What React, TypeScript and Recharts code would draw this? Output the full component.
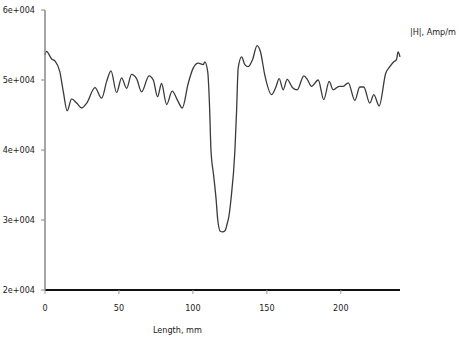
import { LineChart, Line, XAxis, YAxis } from 'recharts';

const lengths = [
  0, 1, 4.5, 6.8, 10, 12.4, 15, 18, 21.4, 24.8, 28.2, 33.8, 38.3, 41.7, 44.6, 48.4, 51.8, 55.2,
  58.5, 61.9, 65.3, 70.3, 73.2, 76.1, 78.8, 82.2, 86, 89.6, 92.8, 96.8, 100.2, 103.6, 107, 108,
  110, 111.2, 112.2, 114, 115.7, 116.8, 118.5, 120, 121.8, 123.2, 124.3, 125.7, 128.4, 129.5,
  130.6, 132.9, 135.1, 137.4, 140.3, 143.4, 145.7, 148.6, 153.2, 156.1, 158.3, 161, 163.7, 167.4,
  170.5, 175, 177.3, 180.2, 184.7, 188.5, 192.1, 194.8, 198.9, 201.6, 205, 209.5, 212.8, 215.5,
  219.6, 222.3, 225.9, 230.4, 233.1, 235.8, 237.6, 238.7, 240,
];

const fieldH = [
  53600, 54100, 53000, 52700, 51200, 48300, 45600, 47300, 46700, 46000, 46700, 48900, 47400, 49800,
  51300, 48200, 50300, 48800, 50800, 50200, 48300, 50600, 50000, 47600, 49500, 46500, 48400, 47100,
  46000, 49500, 51700, 52400, 52200, 52600, 51200, 46500, 40000, 36400, 32900, 30000, 28400, 28300,
  28500, 29500, 30500, 32900, 40000, 45500, 51700, 53300, 52200, 51900, 52900, 54900, 54000, 50700,
  47900, 49000, 50200, 48600, 50100, 48900, 48600, 50600, 50100, 49100, 50000, 47200, 49800, 48600,
  49100, 49100, 49600, 47100, 49000, 49000, 46700, 47900, 46300, 51000, 51900, 52600, 52900, 54000,
  53300,
];

const xTicks = [0, 50, 100, 150, 200];
const yTicks = [20000, 30000, 40000, 50000, 60000];

const data = lengths.map((mm, i) => ({ mm, h: fieldH[i] }));

const FONT = "'DejaVu Sans Condensed', 'DejaVu Sans', sans-serif";

const fmtSci = (v: number) => {
  const exp = Math.floor(Math.log10(v));
  const m = Math.round(v / Math.pow(10, exp));
  return `${m}e+${String(exp).padStart(3, '0')}`;
};

export default function App() {
  return (
    <div style={{ position: 'absolute', left: 0, top: 0, width: 458, height: 340, background: '#fff' }}>
      <LineChart width={458} height={340} data={data} margin={{ top: 10, right: 58, left: 0, bottom: 0 }}>
        <XAxis
          dataKey="mm"
          type="number"
          domain={[0, 240]}
          ticks={xTicks}
          height={50}
          tickSize={4}
          tickMargin={11}
          axisLine={{ stroke: '#111', strokeWidth: 2 }}
          tickLine={{ stroke: '#999' }}
          tick={{ fontSize: 9, fill: '#222', fontFamily: FONT }}
        />
        <YAxis
          type="number"
          domain={[20000, 60000]}
          ticks={yTicks}
          width={45}
          tickSize={4}
          tickMargin={6}
          tickFormatter={fmtSci}
          axisLine={{ stroke: '#888', strokeWidth: 1.5 }}
          tickLine={{ stroke: '#888' }}
          tick={{ fontSize: 9, fill: '#222', fontFamily: FONT }}
        />
        <Line
          type="monotone"
          dataKey="h"
          stroke="#3a3a3a"
          strokeWidth={1.3}
          dot={false}
          isAnimationActive={false}
        />
      </LineChart>
      <div style={{ position: 'absolute', left: 410, top: 27, fontSize: 9, fontFamily: FONT, color: '#222', whiteSpace: 'nowrap' }}>
        |H|, Amp/m
      </div>
      <div style={{ position: 'absolute', left: 153, top: 325, fontSize: 9, fontFamily: FONT, color: '#222', whiteSpace: 'nowrap' }}>
        Length, mm
      </div>
    </div>
  );
}
